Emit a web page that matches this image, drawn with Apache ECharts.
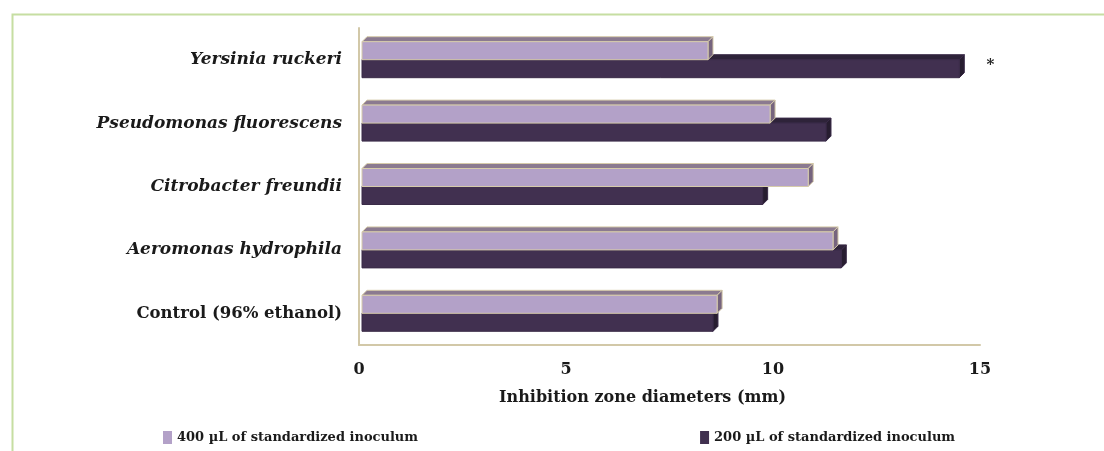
<!DOCTYPE html>
<html>
<head>
<meta charset="utf-8">
<script src="https://cdn.jsdelivr.net/npm/echarts@6/dist/echarts.min.js"></script>
<style>
  html, body { margin: 0; padding: 0; background: #fff; }
  #chart { width: 1104px; height: 451px; }
</style>
</head>
<body>
<div id="chart"></div>
<script>
// categories, bottom to top
const categories = [
  "Control (96% ethanol)",
  "Aeromonas hydrophila",
  "Citrobacter freundii",
  "Pseudomonas fluorescens",
  "Yersinia ruckeri"
];
// inhibition zone diameters (mm)
const dose400 = [8.65, 11.45, 10.85, 9.93, 8.43];
const dose200 = [8.55, 11.65, 9.75, 11.28, 14.5];
const marks200 = ["", "", "", "", "*"];
const xTicks = [0, 5, 10, 15];

const seriesNames = ["400 µL of standardized inoculum", "200 µL of standardized inoculum"];
const font = "DejaVu Serif";

// 3D-ish bar drawn through the axes
function makeRender(face, top, side, stroke, upper, marks) {
  return function (params, api) {
    const cat = api.value(1);
    const val = api.value(0);
    const start = api.coord([0, cat]);
    const end = api.coord([val, cat]);
    const band = api.size([0, 1])[1];
    const h = Math.round(band * 0.29);
    const d = 5;
    const x0 = start[0] + 3;
    const x1 = end[0];
    const y0 = upper ? start[1] - h : start[1];
    const children = [
      {
        type: "polygon",
        shape: { points: [[x0, y0], [x0 + d, y0 - d], [x1 + d, y0 - d], [x1, y0]] },
        style: { fill: top, stroke: stroke, lineWidth: 1 }
      },
      {
        type: "polygon",
        shape: { points: [[x1, y0], [x1 + d, y0 - d], [x1 + d, y0 + h - d], [x1, y0 + h]] },
        style: { fill: side, stroke: stroke, lineWidth: 1 }
      },
      {
        type: "rect",
        shape: { x: x0, y: y0, width: x1 - x0, height: h },
        style: { fill: face, stroke: stroke, lineWidth: 1 }
      }
    ];
    if (marks && marks[params.dataIndex]) {
      children.push({
        type: "text",
        style: {
          text: marks[params.dataIndex],
          x: x1 + 31,
          y: y0 + h / 2 - 4,
          fill: "#222",
          font: "bold 15px " + font,
          align: "center",
          verticalAlign: "middle"
        }
      });
    }
    return { type: "group", children: children };
  };
}

const chart = echarts.init(document.getElementById("chart"));
chart.setOption({
  backgroundColor: "#fff",
  animation: false,
  graphic: [
    {
      type: "rect",
      left: 10,
      top: 12,
      shape: { width: 1200, height: 500 },
      style: { fill: "none", stroke: "#c6dea2", lineWidth: 2 }
    }
  ],
  grid: { left: 359, right: 124, top: 28, bottom: 106 },
  legend: {
    data: seriesNames,
    left: 158,
    top: 426,
    icon: "rect",
    itemWidth: 9,
    itemHeight: 13,
    itemGap: 282,
    textStyle: { fontFamily: font, fontWeight: "bold", fontSize: 13, color: "#1a1a1a" }
  },
  xAxis: {
    type: "value",
    min: 0,
    max: 15,
    interval: 5,
    name: "Inhibition zone diameters (mm)",
    nameLocation: "middle",
    nameGap: 45,
    nameTextStyle: {
      fontFamily: font, fontWeight: "bold", fontSize: 16, color: "#1a1a1a",
      padding: [0, 54, 0, 0]
    },
    axisLine: { show: true, lineStyle: { color: "#d2c8a8", width: 2 } },
    axisTick: { show: false },
    splitLine: { show: false },
    axisLabel: {
      margin: 17,
      fontFamily: font, fontWeight: "bold", fontSize: 16, color: "#1a1a1a",
      formatter: v => (xTicks.indexOf(v) >= 0 ? String(v) : "")
    }
  },
  yAxis: {
    type: "category",
    data: categories,
    axisLine: { show: true, lineStyle: { color: "#d2c8a8", width: 2 } },
    axisTick: { show: false },
    axisLabel: {
      margin: 17,
      formatter: v => (v.indexOf("Control") === 0 ? "{n|" + v + "}" : "{i|" + v + "}"),
      rich: {
        i: { fontFamily: font, fontWeight: "bold", fontStyle: "italic", fontSize: 17, color: "#1a1a1a" },
        n: { fontFamily: font, fontWeight: "bold", fontSize: 16.5, color: "#1a1a1a" }
      }
    }
  },
  series: [
    {
      name: seriesNames[1],
      type: "custom",
      itemStyle: { color: "#413050" },
      encode: { x: 0, y: 1 },
      renderItem: makeRender("#413050", "#2e2339", "#271d30", "#3a2b48", false, marks200),
      data: dose200.map((v, i) => [v, i]),
      z: 2
    },
    {
      name: seriesNames[0],
      type: "custom",
      itemStyle: { color: "#b3a1c8" },
      encode: { x: 0, y: 1 },
      renderItem: makeRender("#b3a1c8", "#8b7a90", "#76647e", "#d6cbaa", true, null),
      data: dose400.map((v, i) => [v, i]),
      z: 3
    }
  ]
});
</script>
</body>
</html>
